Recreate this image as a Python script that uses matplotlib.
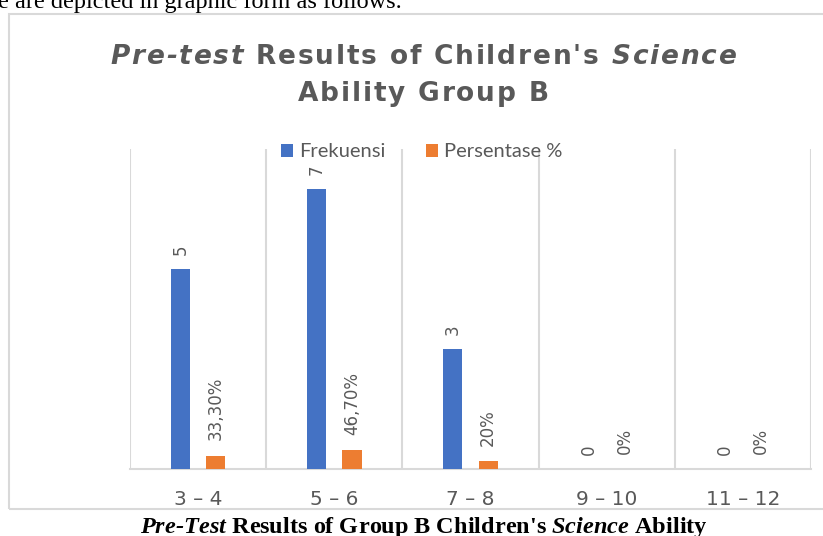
"""
Pre-test bar chart of Group B children's science ability, as in the report.
"""

import matplotlib
matplotlib.use("Agg")
import matplotlib.pyplot as plt
from matplotlib.patches import Rectangle
import numpy as np

categories = ["3 – 4", "5 – 6", "7 – 8", "9 – 10", "11 – 12"]
frekuensi = [5, 7, 3, 0, 0]
persentase = [0.333, 0.467, 0.20, 0.0, 0.0]
persentase_labels = ["33,30%", "46,70%", "20%", "0%", "0%"]

BLUE = "#4472C4"
ORANGE = "#ED7D31"
GRAY_TEXT = "#595959"
GRID = "#D9D9D9"

W, H = 823, 536


def draw_runs(fig, runs, x_center, y, tracking=0.0, **kw):
    """Place styled text runs side by side, centred on x_center (fig coords).

    tracking adds extra pixels after every character (letter spacing).
    """
    renderer = fig.canvas.get_renderer()
    pieces = []
    for s, st in runs:
        if pieces:
            pieces.append((" ", st))
        pieces.extend((ch, st) for ch in s)

    texts, widths = [], []
    for ch, st in pieces:
        if ch == " ":
            a = fig.text(0, 0, "x x", fontstyle=st, **kw)
            b = fig.text(0, 0, "xx", fontstyle=st, **kw)
            w = a.get_window_extent(renderer).width - b.get_window_extent(renderer).width
            a.remove()
            b.remove()
            texts.append(None)
        else:
            t = fig.text(0, y, ch, fontstyle=st, va="baseline", ha="left", **kw)
            w = t.get_window_extent(renderer).width
            texts.append(t)
        widths.append(w + tracking)

    total = sum(widths) - tracking
    x = x_center * W - total / 2
    for t, w in zip(texts, widths):
        if t is not None:
            t.set_x(x / W)
        x += w


fig = plt.figure(figsize=(W / 100, H / 100), dpi=100)

# chart frame
fig.patches.append(Rectangle((9 / W, 1 - 509 / H), 1.0, (509 - 14) / H,
                             transform=fig.transFigure, fill=False,
                             edgecolor=GRID, linewidth=1.5))

ax = fig.add_axes([130 / W, 1 - 469 / H, (811 - 130) / W, (469 - 149) / H])

x = np.arange(len(categories))
bw = 0.14
off = 0.13
b1 = ax.bar(x - off, frekuensi, bw, color=BLUE, label="Frekuensi", zorder=3)
b2 = ax.bar(x + off, persentase, bw, color=ORANGE, label="Persentase %", zorder=3)

lab_font = dict(rotation=90, ha="center", va="bottom", color=GRAY_TEXT,
                fontsize=12, family="DejaVu Sans")
for xi, v in zip(x, frekuensi):
    ax.annotate(str(v), (xi - off, v), xytext=(0, 10), textcoords="offset points",
                **lab_font)
for xi, v, s in zip(x, persentase, persentase_labels):
    ax.annotate(s, (xi + off, v), xytext=(0, 11), textcoords="offset points",
                **lab_font)

ax.set_xlim(-0.5, len(categories) - 0.5)
ax.set_ylim(0, 8)
ax.set_xticks(x)
ax.set_xticklabels(categories, fontsize=14.5, color=GRAY_TEXT)
ax.tick_params(axis="x", length=0, pad=15)
ax.set_yticks([])
ax.set_xticks(np.arange(-0.5, len(categories)), minor=True)
ax.tick_params(axis="x", which="minor", length=0)
ax.grid(True, which="minor", axis="x", color=GRID, linewidth=1.5)
for side in ["top", "left", "right"]:
    ax.spines[side].set_visible(False)
ax.spines["bottom"].set_color(GRID)
ax.spines["bottom"].set_linewidth(1.5)

leg = fig.legend(handles=[b1, b2], loc="center", bbox_to_anchor=(422 / W, 1 - 152 / H),
                 ncol=2, frameon=False, handlelength=0.6, handleheight=0.6,
                 handletextpad=0.3, columnspacing=2.0,
                 prop={"family": "Lato", "size": 14.5})
for t in leg.get_texts():
    t.set_color(GRAY_TEXT)

# chart title
title_kw = dict(color=GRAY_TEXT, fontweight="bold", fontsize=19, family="DejaVu Sans")
draw_runs(fig, [("Pre-test", "italic"), ("Results of Children's", "normal"),
                ("Science", "italic")], 423 / W, 1 - 64 / H, tracking=1.8, **title_kw)
draw_runs(fig, [("Ability Group B", "normal")], 423 / W, 1 - 101 / H,
          tracking=1.8, **title_kw)

# surrounding document text
fig.text(-2 / W, 1 - 8 / H, "e are depicted in graphic form as follows.",
         family="Liberation Serif", fontsize=17.5, color="black", va="baseline")
cap_kw = dict(color="black", fontweight="bold", fontsize=17.5, family="Liberation Serif")
draw_runs(fig, [("Pre-Test", "italic"), ("Results of Group B Children's", "normal"),
                ("Science", "italic"), ("Ability", "normal")],
          423 / W, 1 - 533 / H, tracking=0.0, **cap_kw)

fig.savefig("out.png", dpi=100)
